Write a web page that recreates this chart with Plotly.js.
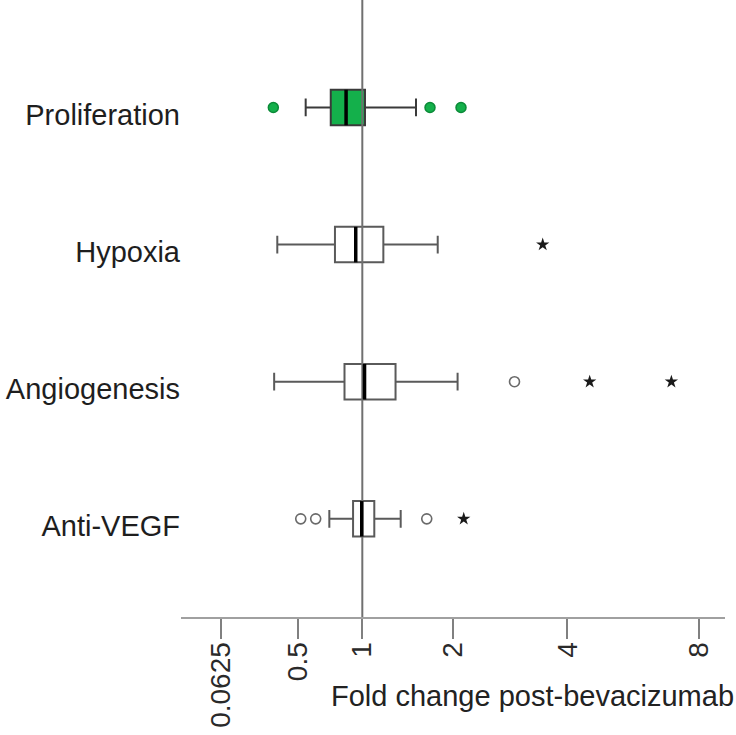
<!DOCTYPE html>
<html>
<head>
<meta charset="utf-8">
<script src="https://cdn.plot.ly/plotly-3.0.1.min.js"></script>
<style>
  html, body { margin: 0; padding: 0; background: #ffffff; }
  #chart { width: 736px; height: 735px; }
</style>
</head>
<body>
<div id="chart"></div>
<script>
// ---- Data (fold change values) ----
const categories = ['Proliferation', 'Hypoxia', 'Angiogenesis', 'Anti-VEGF'];
const q1 = [0.737, 0.770, 0.847, 0.919];
const median = [0.860, 0.942, 1.020, 0.995];
const q3 = [1.024, 1.197, 1.320, 1.110];
const whiskerLow = [0.553, 0.368, 0.349, 0.726];
const whiskerHigh = [1.542, 1.801, 2.061, 1.374];
const outliersCircle = [[0.344, 1.706, 2.108], [], [2.947], [0.519, 0.624, 1.667]];
const outliersStar = [[], [3.477], [4.522, 6.954], [2.146]];
const tickValues = [0.0625, 0.5, 1, 2, 4, 8];
const tickLabels = ['0.0625', '0.5', '1', '2', '4', '8'];
const referenceValue = 1;
const xTitle = 'Fold change post-bevacizumab';

// The original axis is logarithmic in (fold change + 1)
const OFFSET = 1;
const sh = v => v + OFFSET;

const yPos = categories.map((c, i) => categories.length - 1 - i);
const yRange = [-0.716, 3.784];
const boxWidth = 0.259;
const highlight = 'Proliferation';

const FONT = 'Liberation Sans, Arial, Helvetica, sans-serif';
const green = '#14b04b';
const greenDark = '#0b8a38';
const boxLine = '#5a5a5a';

const traces = [];

// Boxes
categories.forEach((c, i) => {
  const hl = c === highlight;
  traces.push({
    type: 'box',
    orientation: 'h',
    name: c,
    y: [yPos[i]],
    q1: [sh(q1[i])],
    median: [sh(median[i])],
    q3: [sh(q3[i])],
    lowerfence: [sh(whiskerLow[i])],
    upperfence: [sh(whiskerHigh[i])],
    width: boxWidth,
    whiskerwidth: 0.5,
    boxpoints: false,
    fillcolor: hl ? green : '#ffffff',
    line: { color: hl ? '#3a3a3a' : boxLine, width: 2 },
    showlegend: false,
    hoverinfo: 'skip'
  });
});

// Reference line at fold change = 1
traces.push({
  type: 'scatter',
  mode: 'lines',
  x: [sh(referenceValue), sh(referenceValue)],
  y: yRange,
  line: { color: '#707070', width: 2 },
  showlegend: false,
  hoverinfo: 'skip'
});

// Thick black medians
categories.forEach((c, i) => {
  traces.push({
    type: 'scatter',
    mode: 'lines',
    x: [sh(median[i]), sh(median[i])],
    y: [yPos[i] - boxWidth / 2, yPos[i] + boxWidth / 2],
    line: { color: '#000000', width: 3.5 },
    showlegend: false,
    hoverinfo: 'skip'
  });
});

// Outliers: circles
categories.forEach((c, i) => {
  if (!outliersCircle[i].length) return;
  const hl = c === highlight;
  traces.push({
    type: 'scatter',
    mode: 'markers',
    x: outliersCircle[i].map(sh),
    y: outliersCircle[i].map(() => yPos[i]),
    marker: hl
      ? { symbol: 'circle', size: 10, color: green, line: { color: greenDark, width: 1.5 } }
      : { symbol: 'circle-open', size: 10, color: '#6a6a6a', line: { width: 1.6 } },
    showlegend: false
  });
});

// Outliers: stars (extreme)
categories.forEach((c, i) => {
  if (!outliersStar[i].length) return;
  traces.push({
    type: 'scatter',
    mode: 'markers',
    x: outliersStar[i].map(sh),
    y: outliersStar[i].map(() => yPos[i]),
    marker: { symbol: 'star', size: 10, color: '#1a1a1a' },
    showlegend: false
  });
});

const layout = {
  width: 736,
  height: 735,
  margin: { l: 181, r: 11, t: 0, b: 118, pad: 0 },
  paper_bgcolor: '#ffffff',
  plot_bgcolor: '#ffffff',
  showlegend: false,
  font: { family: FONT, color: '#222222' },
  xaxis: {
    type: 'log',
    range: [-0.0507, 1.0046],
    tickvals: tickValues.map(sh),
    ticktext: tickLabels,
    tickangle: -90,
    ticks: 'outside',
    ticklen: 20,
    tickwidth: 2,
    tickcolor: '#808080',
    tickfont: { family: FONT, size: 28, color: '#2a2a2a' },
    ticklabelstandoff: -8,
    showline: true,
    linecolor: '#a0a0a0',
    linewidth: 2,
    showgrid: false,
    zeroline: false,
    fixedrange: true
  },
  yaxis: {
    range: yRange,
    tickvals: yPos,
    ticktext: categories,
    ticks: '',
    showline: false,
    showgrid: false,
    zeroline: false,
    tickfont: { family: FONT, size: 29, color: '#1e1e1e' },
    ticklabelstandoff: 0,
    ticklabelshift: 7,
    fixedrange: true
  },
  annotations: [{
    text: xTitle,
    xref: 'paper', yref: 'paper',
    x: 0.647, y: -0.128,
    xanchor: 'center', yanchor: 'middle',
    showarrow: false,
    font: { family: FONT, size: 29, color: '#222222' }
  }]
};

Plotly.newPlot('chart', traces, layout, { displayModeBar: false, staticPlot: true });
</script>
</body>
</html>
